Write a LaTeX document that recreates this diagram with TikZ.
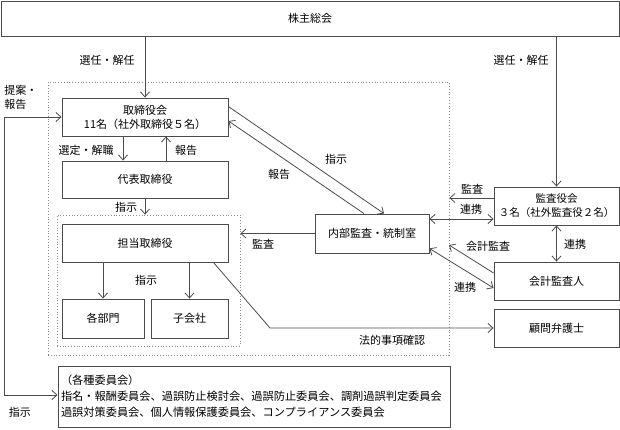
\documentclass[tikz,border=0pt]{standalone}
\usepackage{fontspec}
\setmainfont{Noto Sans CJK JP}
\usetikzlibrary{arrows.meta}
\begin{document}
\begin{tikzpicture}[x=1pt,y=-1pt,
  box/.style={draw=black!70, line width=0.9pt, rectangle, inner sep=0pt, font=\fontsize{11}{14}\selectfont, align=center},
  dotbox/.style={draw=black!45, dotted, line width=0.8pt, rectangle, inner sep=0pt},
  arr/.style={draw=black!70, line width=0.8pt, -{Straight Barb[length=5pt,width=9pt]}},
  arrb/.style={draw=black!70, line width=0.8pt, {Straight Barb[length=5pt,width=9pt]}-{Straight Barb[length=5pt,width=9pt]}},
  lbl/.style={font=\fontsize{11}{14}\selectfont, inner sep=0pt, align=center}]
\useasboundingbox (0,0) rectangle (620,430);

% dotted groups
\node[dotbox, minimum width=401, minimum height=273] (outer) at (248.5,218.5) {};
\node[dotbox, minimum width=183, minimum height=131] (inner) at (148.5,280.5) {};

% boxes
\node[box, minimum width=618, minimum height=35] (gm) at (310,18.5) {株主総会};
\node[box, minimum width=166, minimum height=38] (bod) at (145,117) {取締役会\\11名（社外取締役５名）};
\node[box, minimum width=166, minimum height=37] (rep) at (145,179.5) {代表取締役};
\node[box, minimum width=166, minimum height=38] (tan) at (145,243) {担当取締役};
\node[box, minimum width=82, minimum height=39] (bu) at (103,318.5) {各部門};
\node[box, minimum width=77, minimum height=39] (ko) at (189.5,318.5) {子会社};
\node[box, minimum width=114, minimum height=39] (nai) at (372,233.5) {内部監査・統制室};
\node[box, minimum width=125, minimum height=38, font=\fontsize{10.5}{14}\selectfont] (kansa) at (556.5,206) {監査役会\\３名（社外監査役２名）};
\node[box, minimum width=125, minimum height=38] (kaikei) at (556.5,281) {会計監査人};
\node[box, minimum width=125, minimum height=38] (komon) at (556.5,328) {顧問弁護士};
\node[box, text width=386pt, inner xsep=3pt, minimum height=61, align=left, font=\fontsize{11.2}{16}\selectfont] (com) at (254,396.5) {（各種委員会）\\指名・報酬委員会、過誤防止検討会、過誤防止委員会、調剤過誤判定委員会\\過誤対策委員会、個人情報保護委員会、コンプライアンス委員会};

% coordinates
\coordinate (ka) at (449,245);
\coordinate (lg1) at (270,328);
\coordinate (fb1) at (4,117);
\coordinate (fb2) at (4,395);
\coordinate (kw1) at ([yshift=8pt]kansa.west);
\coordinate (kw2) at ([yshift=-13pt]kansa.west);

% connectors
\draw[arr] (bod.north |- gm.south) -- (bod.north);
\draw[arr] (kansa.north |- gm.south) -- (kansa.north);
\draw[arr] ([xshift=-22pt]bod.south) -- ([xshift=-22pt]rep.north);
\draw[arr] ([xshift=21pt]rep.north) -- ([xshift=21pt]bod.south);
\draw[arr] (rep.south) -- (rep.south |- inner.north);
\draw[arr] (bu.north |- tan.south) -- (bu.north);
\draw[arr] (ko.north |- tan.south) -- (ko.north);
\draw[arr] (nai.west) -- (inner.east |- nai.west);
\draw[arr] ([yshift=-9pt]bod.north east) -- ([xshift=12pt]nai.north);
\draw[arr] ([xshift=-8pt]nai.north) -- ([yshift=-4pt]bod.east);
\draw[arr] (kw1) -- (outer.east |- kw1);
\draw[arrb] (nai.east |- kw2) -- (kw2);
\draw[arrb] (kansa.south) -- (kaikei.north);
\draw[arr] ([yshift=8pt]kaikei.west) -- (ka);
\draw[arrb] ([yshift=5pt]nai.south east) -- ([yshift=-7pt]kaikei.west);
\draw[arr] ([xshift=-15pt]tan.south east) -- (lg1) -- (komon.west);
\draw[arrb] (bod.west) -- (fb1) -- (fb2) -- (com.west |- fb2);

% labels
\node[lbl] at (107,60) {選任・解任};
\node[lbl] at (521,60) {選任・解任};
\node[lbl, align=left] at (21,97) {提案・\\報告};
\node[lbl] at (86,150) {選定・解職};
\node[lbl] at (186,150) {報告};
\node[lbl] at (126,207) {指示};
\node[lbl] at (146,280) {指示};
\node[lbl] at (263,244) {監査};
\node[lbl] at (336,159) {指示};
\node[lbl] at (279,174) {報告};
\node[lbl] at (472,189) {監査};
\node[lbl] at (471,209) {連携};
\node[lbl] at (488,246) {会計監査};
\node[lbl] at (465,287) {連携};
\node[lbl] at (575,244) {連携};
\node[lbl] at (392,340) {法的事項確認};
\node[lbl] at (20,412) {指示};
\end{tikzpicture}
\end{document}
